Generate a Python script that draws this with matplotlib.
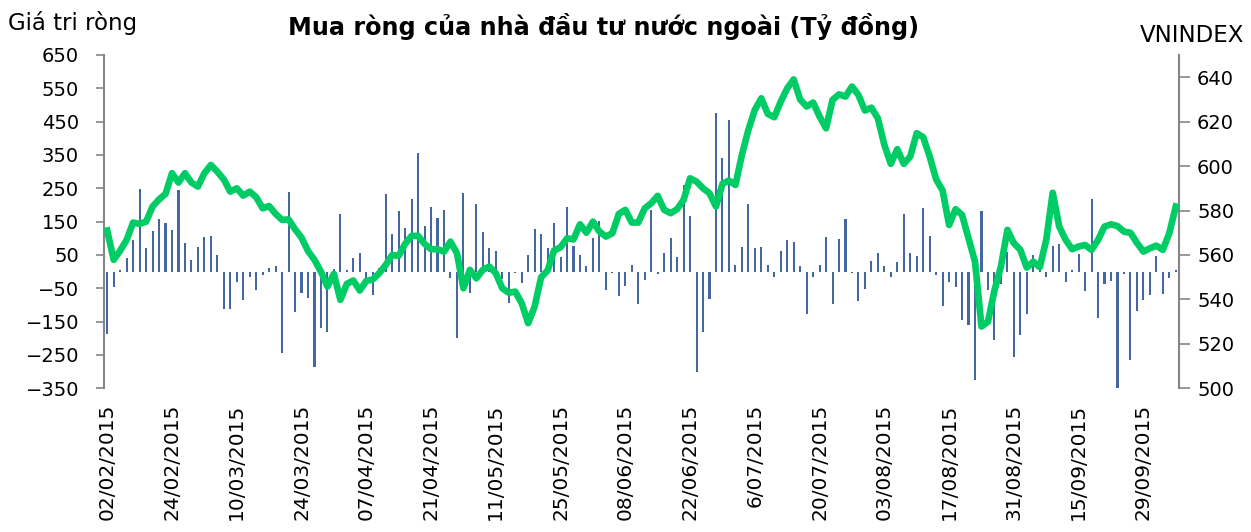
import matplotlib

matplotlib.use("Agg")
import matplotlib.pyplot as plt
import numpy as np

# Net foreign buying (bn VND), one value per trading day
NET_BUY = [
    -187, -45, 5, 42, 95, 247, 72, 122, 157, 147,
    125, 244, 85, 34, 74, 105, 108, 50, -112, -112,
    -32, -85, -15, -56, -11, 10, 17, -243, 239, -121,
    -63, -80, -285, -168, -180, 8, 172, 5, 42, 55,
    -28, -71, 10, 232, 112, 182, 130, 218, 355, 137,
    194, 162, 185, -18, -200, 236, -63, 203, 119, 71,
    61, -23, -93, -5, -33, 49, 129, 112, 70, 145,
    44, 193, 77, 50, 16, 102, 151, -56, -3, -74,
    -44, 19, -98, -24, 185, -8, 57, 101, 45, 260,
    167, -301, -181, -81, 476, 340, 455, 21, 74, 203,
    72, 74, 19, -15, 63, 95, 89, 17, -126, -16,
    20, 104, -96, 98, 159, -5, -88, -51, 32, 56,
    17, -16, 30, 172, 55, 47, 192, 108, -11, -103,
    -30, -45, -146, -160, -325, 182, -56, -205, -36, 60,
    -255, -190, -128, 49, 10, -16, 77, 83, -31, 4,
    52, -58, 217, -138, -36, -28, -356, -8, -266, -119,
    -86, -70, 47, -66, -18, 5,
]

VNINDEX = [
    571.0, 557.8, 562.0, 566.8, 574.6, 574.0, 575.0, 581.8, 585.0, 587.5,
    596.8, 592.6, 596.8, 592.6, 590.8, 596.8, 600.5, 597.5, 594.0, 588.5,
    590.0, 586.7, 588.5, 586.0, 581.0, 582.0, 578.5, 575.8, 576.0, 571.6,
    567.8, 561.8, 557.8, 552.5, 545.8, 551.5, 539.8, 547.0, 548.5, 544.0,
    548.3, 549.0, 551.8, 555.5, 560.0, 559.6, 565.0, 568.6, 568.6, 565.0,
    562.6, 562.6, 561.5, 566.0, 560.8, 545.0, 553.3, 549.5, 553.3, 554.8,
    551.8, 545.0, 543.0, 543.5, 538.3, 529.3, 536.8, 550.0, 553.0, 562.0,
    563.5, 567.5, 567.0, 573.8, 570.0, 575.0, 570.5, 568.3, 569.8, 578.5,
    580.3, 574.6, 574.6, 581.0, 583.3, 586.6, 580.3, 578.8, 580.6, 584.8,
    594.5, 593.0, 590.0, 587.8, 581.8, 592.0, 593.5, 591.5, 605.0, 616.3,
    625.3, 630.5, 623.5, 622.0, 629.0, 635.0, 639.0, 630.0, 626.8, 628.6,
    622.3, 617.0, 629.8, 632.3, 631.3, 635.8, 632.0, 625.0, 626.3, 621.5,
    609.5, 601.0, 607.6, 601.0, 604.3, 614.8, 613.0, 604.3, 594.0, 589.0,
    573.5, 580.6, 578.0, 567.5, 557.0, 527.8, 530.0, 544.0, 554.8, 571.3,
    565.3, 562.3, 554.3, 557.0, 554.5, 566.8, 588.0, 572.8, 566.8, 562.6,
    563.8, 564.5, 562.3, 566.8, 572.8, 573.8, 573.0, 570.5, 570.0, 565.5,
    561.5, 563.0, 564.2, 562.3, 569.8, 581.8,
]

# a label every 10 trading days
DATE_LABELS = [
    "02/02/2015", "24/02/2015", "10/03/2015", "24/03/2015", "07/04/2015",
    "21/04/2015", "11/05/2015", "25/05/2015", "08/06/2015", "22/06/2015",
    "6/07/2015", "20/07/2015", "03/08/2015", "17/08/2015", "31/08/2015",
    "15/09/2015", "29/09/2015",
]
LEFT_TICKS = list(range(-350, 651, 100))
RIGHT_TICKS = list(range(500, 641, 20))

BAR_COLOR = "#44679f"
LINE_COLOR = "#00cc66"
AXIS_COLOR = "#868686"
FS = 14

plt.rcParams["font.family"] = ["DejaVu Sans"]

x = np.arange(len(NET_BUY))
fig = plt.figure(figsize=(12.51, 5.32), dpi=100)
ax = fig.add_axes([104 / 1251, 1 - 388.3 / 532, (1179 - 104) / 1251, (388.3 - 55) / 532])

ax.bar(x, NET_BUY, width=0.32, color=BAR_COLOR, zorder=2)
ax.set_xlim(-0.5, len(NET_BUY) - 0.5)
ax.set_ylim(-350, 650)
ax.set_yticks(LEFT_TICKS)
ax.set_xticks(x[::10])
ax.set_xticklabels(DATE_LABELS, rotation=90, fontsize=FS + 0.5)
ax.tick_params(axis="x", length=0, pad=11)
ax.tick_params(axis="y", direction="out", length=6, width=1.2, color=AXIS_COLOR,
               labelsize=FS, pad=12)
for side in ("top", "bottom", "right"):
    ax.spines[side].set_visible(False)
ax.spines["left"].set_color(AXIS_COLOR)
ax.spines["left"].set_linewidth(1.5)

ax2 = ax.twinx()
ax2.plot(x, VNINDEX, color=LINE_COLOR, linewidth=4.8, solid_joinstyle="round", zorder=3)
ax2.set_ylim(500, 650)
ax2.set_yticks(RIGHT_TICKS)
ax2.tick_params(axis="y", direction="out", length=8, width=1.2, color=AXIS_COLOR,
                labelsize=FS, pad=5)
for side in ("top", "bottom", "left"):
    ax2.spines[side].set_visible(False)
ax2.spines["right"].set_color(AXIS_COLOR)
ax2.spines["right"].set_linewidth(1.5)

fig.text(604 / 1251, 1 - 26 / 532, "Mua ròng của nhà đầu tư nước ngoài (Tỷ đồng)",
         ha="center", va="center", fontsize=17.2, fontweight="bold")
fig.text(8 / 1251, 1 - 23 / 532, "Giá tri ròng", ha="left", va="center", fontsize=16.5)
fig.text(1244 / 1251, 1 - 35 / 532, "VNINDEX", ha="right", va="center", fontsize=16.5)

fig.savefig("out.png", dpi=100)
